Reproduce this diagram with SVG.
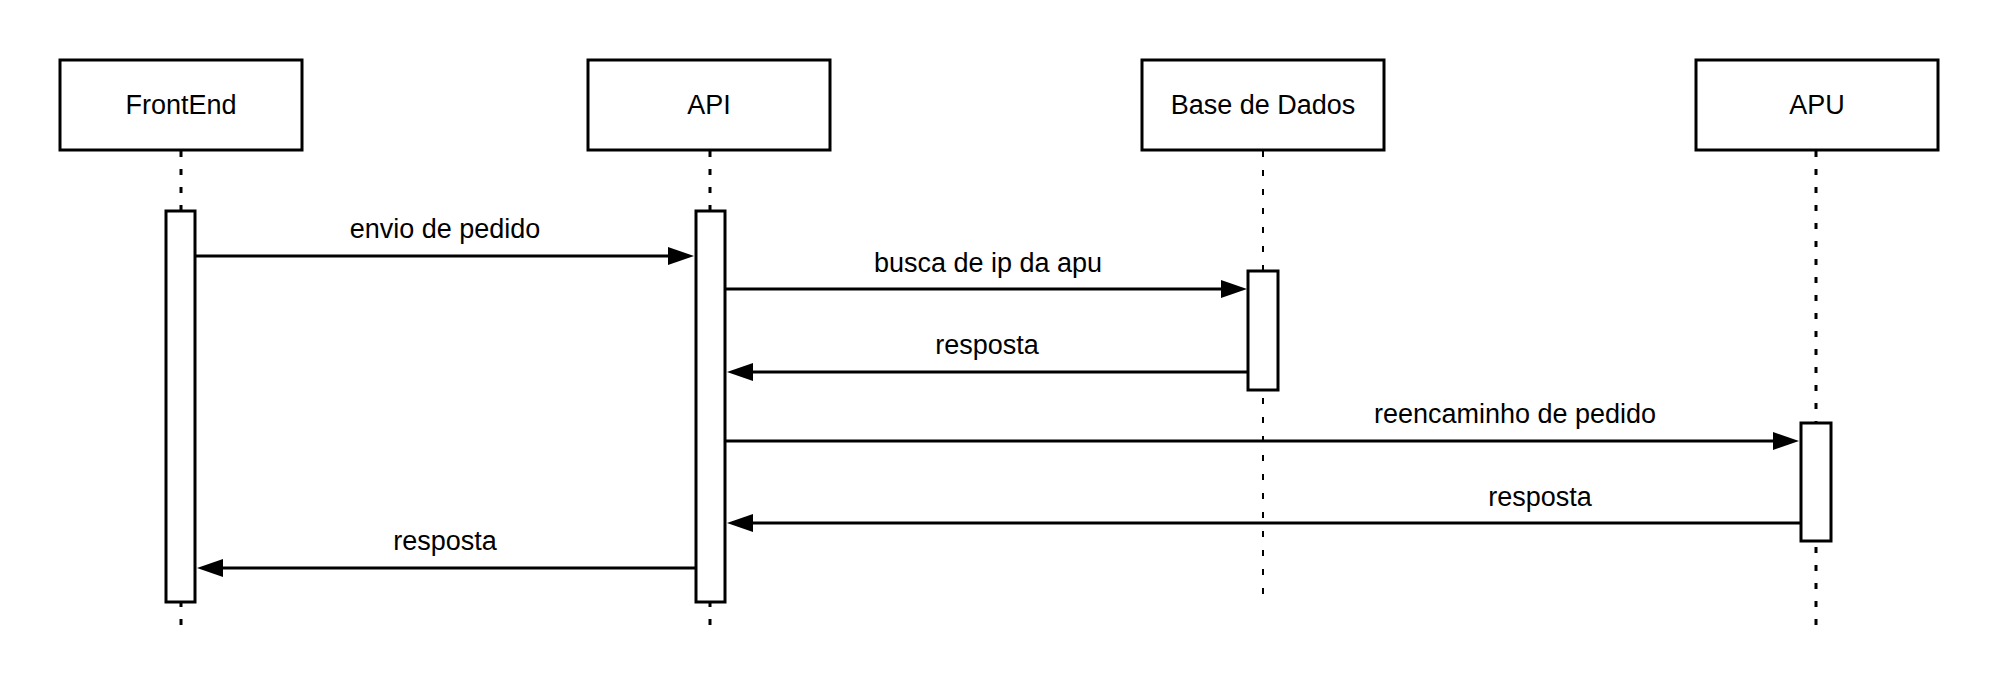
<svg xmlns="http://www.w3.org/2000/svg" width="1999" height="696" viewBox="0 0 1999 696">
  <style>
    .box { fill: #ffffff; stroke: #000000; stroke-width: 3; }
    .act { fill: #ffffff; stroke: #000000; stroke-width: 3; }
    .life { stroke: #000000; stroke-width: 3; stroke-dasharray: 6 12; fill: none; }
    .life-thin { stroke: #000000; stroke-width: 2; stroke-dasharray: 6 13; fill: none; }
    .msg { stroke: #000000; stroke-width: 3; fill: none; marker-end: url(#arrow); }
    .title { font-family: "Liberation Sans", Arial, sans-serif; font-size: 27px; fill: #000000; text-anchor: middle; }
    .label { font-family: "Liberation Sans", Arial, sans-serif; font-size: 27px; fill: #000000; text-anchor: middle; }
  </style>
  <defs>
    <marker id="arrow" viewBox="0 0 26 18" markerWidth="26" markerHeight="18" refX="16" refY="9" orient="auto" markerUnits="userSpaceOnUse">
      <path d="M0,0 L26,9 L0,18 z" fill="#000000"/>
    </marker>
  </defs>
  <rect x="0" y="0" width="1999" height="696" fill="#ffffff"/>

  <g id="frontend">
    <line class="life" x1="181" y1="151" x2="181" y2="634"/>
    <rect class="box" x="60" y="60" width="242" height="90"/>
    <text class="title" x="181" y="114">FrontEnd</text>
    <rect class="act" x="166" y="211" width="29" height="391"/>
  </g>

  <g id="api">
    <line class="life" x1="710" y1="151" x2="710" y2="634"/>
    <rect class="box" x="588" y="60" width="242" height="90"/>
    <text class="title" x="709" y="114">API</text>
    <rect class="act" x="696" y="211" width="29" height="391"/>
  </g>

  <g id="base-de-dados">
    <line class="life-thin" x1="1263" y1="151" x2="1263" y2="605"/>
    <rect class="box" x="1142" y="60" width="242" height="90"/>
    <text class="title" x="1263" y="114">Base de Dados</text>
    <rect class="act" x="1248" y="271" width="30" height="119"/>
  </g>

  <g id="apu">
    <line class="life" x1="1816" y1="151" x2="1816" y2="634"/>
    <rect class="box" x="1696" y="60" width="242" height="90"/>
    <text class="title" x="1817" y="114">APU</text>
    <rect class="act" x="1801" y="423" width="30" height="118"/>
  </g>

  <g id="connectors">
    <line class="msg" x1="196" y1="256" x2="684" y2="256"/>
    <text class="label" x="445" y="238">envio de pedido</text>

    <line class="msg" x1="726" y1="289" x2="1237" y2="289"/>
    <text class="label" x="988" y="272">busca de ip da apu</text>

    <line class="msg" x1="1247" y1="372" x2="737" y2="372"/>
    <text class="label" x="987" y="354">resposta</text>

    <line class="msg" x1="726" y1="441" x2="1789" y2="441"/>
    <text class="label" x="1515" y="423">reencaminho de pedido</text>

    <line class="msg" x1="1800" y1="523" x2="737" y2="523"/>
    <text class="label" x="1540" y="506">resposta</text>

    <line class="msg" x1="695" y1="568" x2="207" y2="568"/>
    <text class="label" x="445" y="550">resposta</text>
  </g>
</svg>
